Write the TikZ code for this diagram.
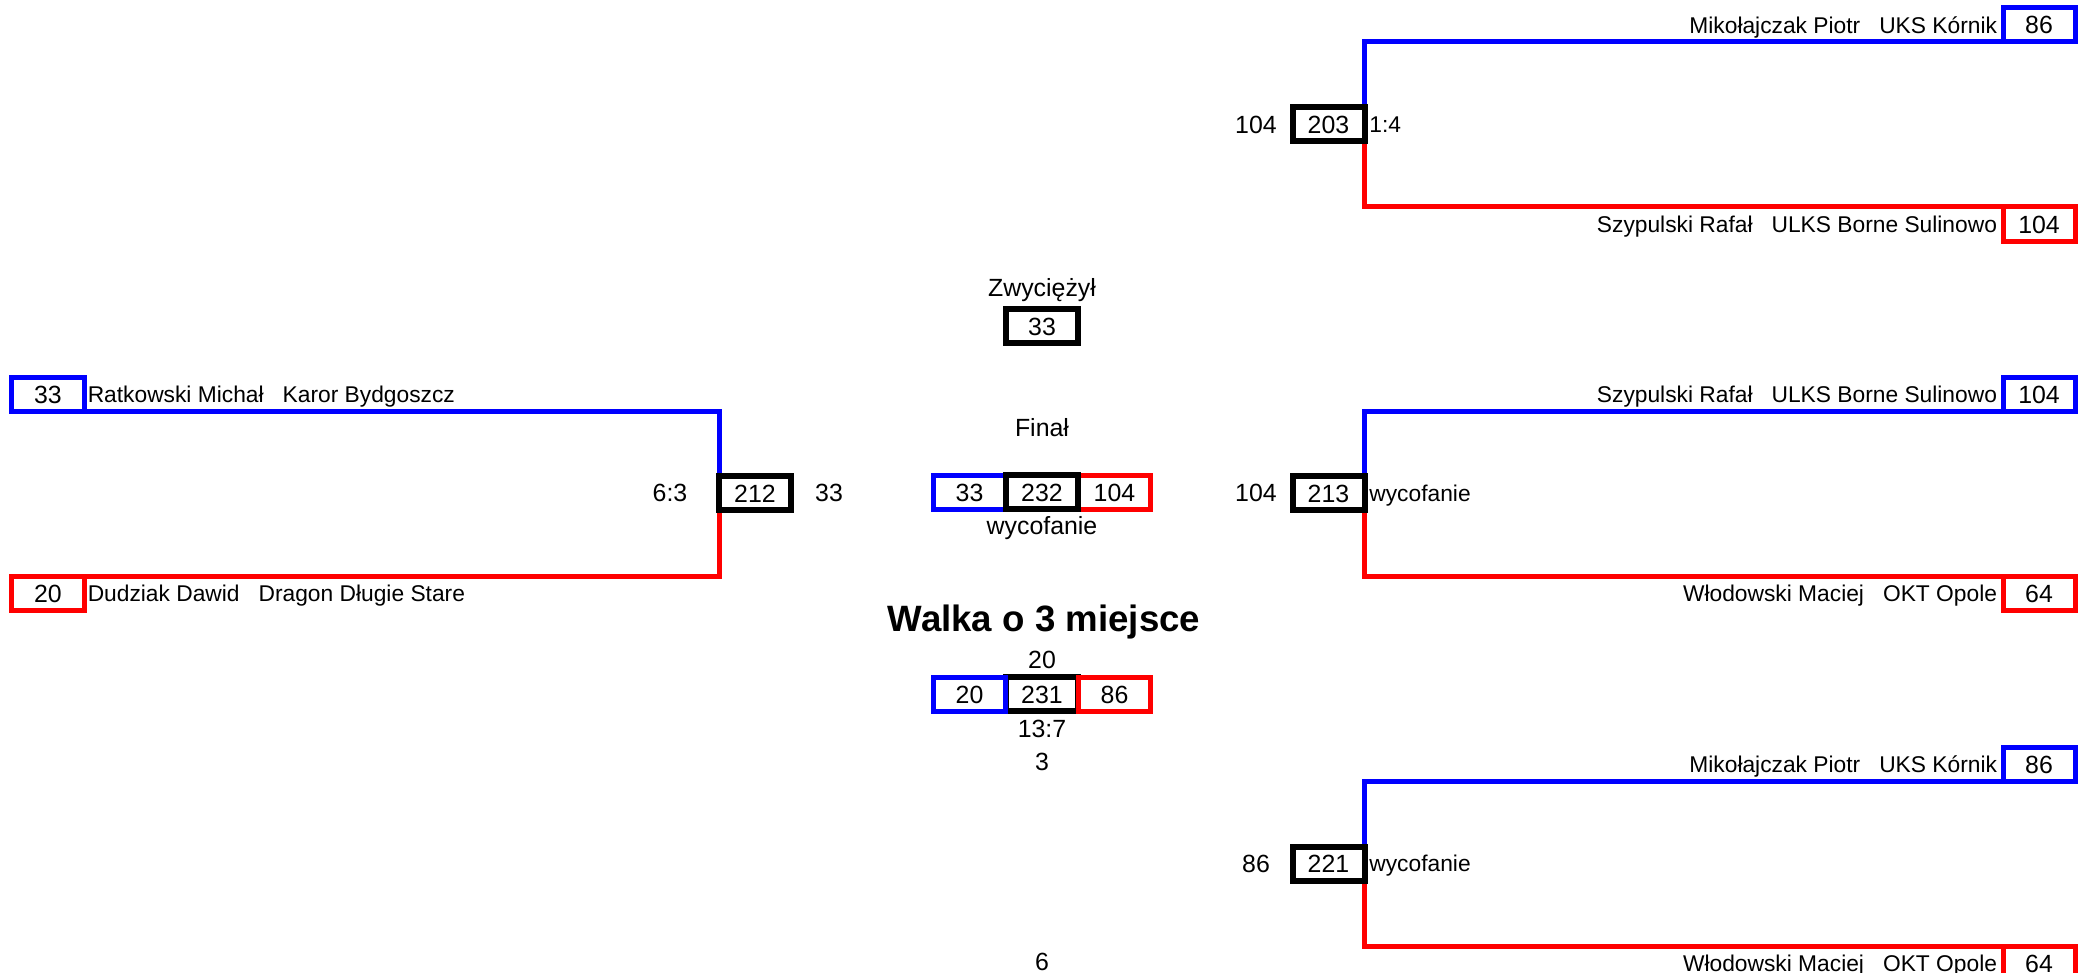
\documentclass[tikz,border=0pt]{standalone}
\usepackage{fontspec}
\setmainfont{Liberation Sans}
\usetikzlibrary{positioning,backgrounds}

\newcommand{\liczba}{\fontsize{11.2}{13.4}\selectfont}
\newcommand{\zawodnik}{\fontsize{10.25}{12.3}\selectfont}
\newcommand{\tytul}{\fontsize{16.5}{19.8}\selectfont\bfseries}

\tikzset{
  numbox/.style={draw, line width=2.25pt, minimum width=32.4pt, minimum height=15.3pt,
    inner sep=0pt, outer sep=0pt, font=\liczba, text height=8.1pt, text depth=0pt},
  bluebox/.style={numbox, draw=blue},
  redbox/.style={numbox, draw=red},
  fightbox/.style={numbox, draw=black, line width=2.7pt},
  blueline/.style={draw=blue, line width=2.25pt},
  redline/.style={draw=red, line width=2.25pt},
  player/.style={font=\zawodnik, inner sep=0pt, text height=7.4pt, text depth=0pt},
  opis/.style={font=\liczba, inner sep=0pt}
}

\begin{document}
\begin{tikzpicture}[x=0.45pt, y=-0.45pt]
        \useasboundingbox (0,0) rectangle (2086,973);
        % walka 203
        \node[fightbox] (w203) at (1328.5,124.5) {203};
        \node[bluebox] (z203a) at (2039,25) {86};
        \node[redbox] (z203b) at (2039,224) {104};
        \node[player, left=2.5pt of z203a] {Mikołajczak Piotr~~~UKS Kórnik};
        \node[player, left=2.5pt of z203b] {Szypulski Rafał~~~ULKS Borne Sulinowo};
        \node[opis] at (1256,124.5) {104};
        \node[player, right=2pt of w203] {1:4};
        % walka 213
        \node[fightbox] (w213) at (1328.5,493) {213};
        \node[bluebox] (z213a) at (2039,394) {104};
        \node[redbox] (z213b) at (2039,593) {64};
        \node[player, left=2.5pt of z213a] {Szypulski Rafał~~~ULKS Borne Sulinowo};
        \node[player, left=2.5pt of z213b] {Włodowski Maciej~~~OKT Opole};
        \node[opis] at (1256,493) {104};
        \node[player, right=2pt of w213] {wycofanie};
        % walka 221
        \node[fightbox] (w221) at (1328.5,863.5) {221};
        \node[bluebox] (z221a) at (2039,764) {86};
        \node[redbox] (z221b) at (2039,963) {64};
        \node[player, left=2.5pt of z221a] {Mikołajczak Piotr~~~UKS Kórnik};
        \node[player, left=2.5pt of z221b] {Włodowski Maciej~~~OKT Opole};
        \node[opis] at (1256,863.5) {86};
        \node[player, right=2pt of w221] {wycofanie};
        % walka 212
        \node[fightbox] (w212) at (755,493) {212};
        \node[bluebox] (z212a) at (48,394) {33};
        \node[redbox] (z212b) at (48,593) {20};
        \node[player, right=1.5pt of z212a] {Ratkowski Michał~~~Karor Bydgoszcz};
        \node[player, right=1.5pt of z212b] {Dudziak Dawid~~~Dragon Długie Stare};
        \node[opis] at (670,493) {6:3};
        \node[opis] at (829,493) {33};
        % brackets
        \begin{scope}[on background layer]
          \draw[blueline] (w203.north east) |- (z203a.south east);
          \draw[redline] (w203.south east) |- (z203b.north east);
          \draw[blueline] (w213.north east) |- (z213a.south east);
          \draw[redline] (w213.south east) |- (z213b.north east);
          \draw[blueline] (w221.north east) |- (z221a.south east);
          \draw[redline] (w221.south east) |- (z221b.north east);
          \draw[blueline] (w212.north west) |- (z212a.south west);
          \draw[redline] (w212.south west) |- (z212b.north west);
        \end{scope}
        % final
        \node[opis] (zw) at (1042,290) {Zwyciężył};
        \node[fightbox] (win) at (1042,326) {33};
        \node[opis] (fin) at (1042,428) {Finał};
        \node[bluebox] (f232a) at (969.5,492) {33};
        \node[redbox] (f232b) at (1114.5,492) {104};
        \node[fightbox] (w232) at (1042,492) {232};
        \node[opis] at (1042,528) {wycofanie};
        % walka o 3 miejsce
        \node[opis, font=\tytul] (tyt) at (1044,622) {Walka o 3 miejsce};
        \node[opis] at (1042,660) {20};
        \node[fightbox] (w231) at (1042,694) {231};
        \node[bluebox] (f231a) at (969.5,694) {20};
        \node[redbox] (f231b) at (1114.5,694) {86};
        \node[opis] at (1042,729) {13:7};
        \node[opis] at (1042,762) {3};
        \node[opis] at (1042,962) {6};
      \end{tikzpicture}
\end{document}
